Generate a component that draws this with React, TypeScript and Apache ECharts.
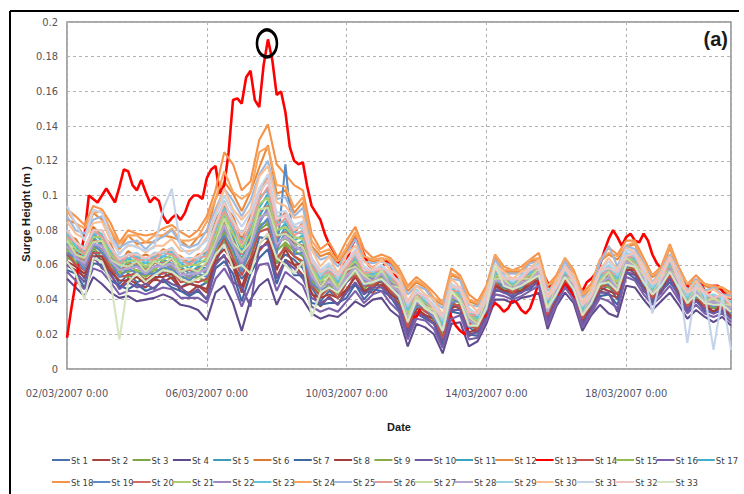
import React, { useEffect, useRef } from "react";
import * as echarts from "echarts";

// Surge height per station, in millimetres. Stations sampled every 6 h, St 13 every 3 h,
// starting 02/03/2007 0:00.
const st1 = [66,60,52,68,62,58,49,55,50,52,51, 56,52,47,50,47,50,61,73,60,52,58, 76,75,61,66,63,58,47,39,45,41,45, 54,44,49,48,45,37,22,35,31,29,17, 37,35,24,21,33,47,47,43,47,48,53, 29,42,50,45,27,37,45,48,40,59,55, 49,40,47,52,45,35,42,35,35,35,32];
const st2 = [60,57,53,63,63,54,47,52,49,47,52, 50,53,45,44,48,44,62,65,59,44,59, 68,74,53,63,60,54,44,36,42,37,46, 48,45,44,49,41,38,20,33,30,27,15, 33,35,19,22,30,48,44,44,44,49,50, 30,39,51,42,28,34,45,43,41,55,55, 45,41,44,53,42,36,39,36,32,36,29];
const st3 = [64,62,58,70,64,60,54,53,56,51,55, 58,54,52,49,53,50,68,74,67,55,63, 80,84,61,72,65,61,49,42,47,41,50, 56,46,51,50,47,39,26,35,35,28,20, 38,36,25,23,35,51,46,46,46,51,52, 33,41,53,44,31,36,49,47,45,58,59, 48,43,46,56,45,38,41,38,35,37,31];
const st4 = [52,47,42,53,49,44,41,42,39,40,41, 43,41,37,36,34,28,44,48,38,22,40, 48,52,37,48,44,40,32,29,31,30,34, 39,36,40,41,34,30,13,26,24,20,9, 26,27,13,16,26,40,40,38,41,42,44, 23,36,44,38,22,31,37,32,30,48,47, 40,34,39,44,37,29,34,30,27,30,25];
const st5 = [72,64,61,71,72,62,58,57,60,54,59, 61,58,56,53,58,55,74,80,74,59,74, 84,93,69,79,68,71,51,48,49,47,52, 61,50,53,53,50,43,30,38,37,30,24, 40,41,26,27,35,53,48,48,48,53,54, 35,43,55,46,33,38,51,51,48,60,61, 50,45,48,59,47,40,43,40,37,39,33];
const st6 = [77,75,67,82,77,72,61,68,64,66,64, 69,67,65,61,66,67,86,94,88,75,88, 100,112,85,90,79,84,61,56,58,54,60, 68,57,57,58,56,49,38,44,42,35,30, 47,47,33,32,40,59,52,52,52,58,59, 41,47,59,50,37,42,57,58,56,65,67, 55,49,52,64,51,44,47,44,41,43,37];
const st7 = [57,55,47,61,60,51,48,46,49,45,47, 51,47,45,42,45,40,58,62,55,39,55, 64,69,49,63,54,54,38,37,38,38,41, 49,40,46,45,42,34,19,32,29,26,13, 33,32,20,19,31,45,45,41,45,46,51, 27,40,48,43,25,35,42,43,37,56,52, 46,38,45,50,43,33,40,33,33,33,30];
const st8 = [62,59,55,65,65,56,51,51,53,49,53, 53,55,47,49,48,46,64,69,62,47,62, 72,78,57,69,60,61,43,41,43,41,46, 53,45,47,51,43,40,23,35,31,29,17, 35,37,21,23,31,49,45,45,45,50,51, 31,40,52,43,29,35,47,45,43,57,57, 47,42,45,55,43,37,40,37,33,37,30];
const st9 = [69,61,59,70,69,60,55,56,57,53,57, 57,59,52,53,53,55,68,79,67,58,67, 83,85,68,73,68,65,51,44,49,43,52, 56,50,49,53,46,43,26,38,34,31,20, 40,38,26,24,36,50,49,45,49,50,55, 32,44,52,47,30,39,48,51,44,61,58, 51,42,49,55,48,37,44,37,38,36,34];
const st10 = [60,56,50,65,58,55,46,50,47,49,46, 52,49,47,43,46,40,60,66,50,47,36, 70,72,52,62,58,52,41,38,41,37,44, 50,43,47,47,42,36,21,32,30,26,16, 34,34,20,21,30,46,44,42,44,47,50, 28,39,49,42,26,34,44,44,33,56,54, 46,39,44,52,42,34,39,34,32,34,29];
const st11 = [70,69,60,76,71,66,56,62,59,59,58, 63,61,59,55,59,58,77,84,76,63,77, 88,97,73,82,71,74,53,50,51,49,54, 62,51,54,54,51,44,32,39,39,31,25, 41,43,27,29,37,55,49,49,49,55,55, 37,44,56,47,34,39,53,53,50,61,63, 51,46,49,60,48,41,44,41,38,40,34];
const st12 = [86,84,76,90,86,80,69,77,72,73,73, 77,76,74,70,76,79,98,108,101,91,102, 116,129,101,103,90,96,71,65,67,61,68, 77,64,62,63,62,55,45,50,47,40,37, 54,52,39,37,45,65,56,56,56,62,63, 47,51,63,54,42,46,62,66,63,70,72, 60,53,56,70,56,48,51,48,46,46,41];
const st13 = [
  18,35,50,65,77,100,98,96,100,104,100,96,105,115,114,106,103,
  109,102,96,99,97,88,84,87,89,86,90,97,100,100,98,110,115,
  117,101,106,125,155,156,153,168,172,155,151,175,190,178,158,160,148,
  128,120,118,119,105,94,90,86,78,72,68,62,60,62,70,75,72,
  66,60,58,55,58,62,60,55,50,40,35,30,30,35,38,35,30,
  28,30,35,30,25,22,20,25,30,33,32,30,35,38,36,33,35,
  40,38,34,32,35,42,50,55,50,45,42,45,50,46,42,40,45,
  50,52,55,60,68,75,80,76,71,76,78,74,73,78,74,66,61,
  58,60,62,60,56,52,48,46,51,50,45,44,48,48,45,42,40,
];
const st14 = [67,60,57,67,67,58,53,54,55,51,55, 55,57,50,51,50,52,65,76,64,54,64, 79,81,64,70,65,62,48,42,47,41,50, 54,48,48,52,45,41,24,37,33,30,18, 38,36,25,23,35,49,48,44,48,49,54, 31,43,51,46,29,38,47,49,43,60,57, 50,41,48,54,47,36,43,36,37,35,33];
const st15 = [68,67,62,72,68,65,55,61,56,58,57, 62,59,57,52,58,56,70,84,70,63,70, 88,89,73,75,72,67,55,46,52,45,54, 58,53,50,56,48,46,28,40,35,33,22, 43,39,29,25,38,51,50,46,50,51,56, 33,45,53,48,31,40,49,53,46,62,59, 52,43,50,57,49,38,45,38,39,37,35];
const st16 = [56,51,46,58,56,50,43,45,45,43,45, 47,46,41,41,41,38,52,58,49,36,48, 60,61,45,56,52,48,36,33,35,33,39, 45,38,43,45,38,33,17,29,28,23,12, 29,31,17,18,28,43,42,40,42,45,48, 25,37,47,40,24,32,41,39,35,53,51, 43,37,42,48,40,32,37,32,30,32,27];
const st17 = [73,71,64,78,74,68,59,64,61,61,61, 65,64,61,58,62,62,79,88,80,68,80, 93,101,78,84,74,77,57,52,54,50,56, 64,53,55,55,53,46,34,41,40,33,27, 43,44,29,30,38,56,50,50,50,56,57, 39,45,57,48,35,40,54,55,52,63,64, 53,47,50,61,49,42,45,42,39,41,35];
const st18 = [92,88,83,94,92,84,73,80,78,77,78, 81,83,79,76,80,88,103,125,118,103,108, 132,141,118,112,106,103,78,69,73,64,74, 82,69,64,66,64,58,48,53,49,44,38, 58,54,43,39,48,66,59,57,59,63,67, 48,54,64,57,44,49,63,70,66,74,74, 64,54,59,72,59,49,54,49,48,47,44];
const st19 = [67,64,57,72,67,62,53,58,55,55,55, 59,57,54,51,55,53,70,77,69,56,69, 81,87,66,118,66,67,49,46,47,45,50, 58,48,51,51,48,41,28,36,36,29,22, 38,40,24,26,34,52,47,47,47,52,53, 34,42,54,45,32,37,50,49,46,59,60, 49,44,47,57,46,39,42,39,36,38,32];
const st20 = [71,67,63,74,73,64,57,60,61,57,61, 61,63,57,57,57,61,74,86,74,66,74, 91,94,76,79,73,71,56,48,53,47,56, 60,53,51,56,49,46,30,41,37,33,23, 43,41,29,27,39,53,51,47,51,53,57, 35,46,54,49,32,41,51,55,48,63,61, 53,44,51,58,50,39,46,39,40,38,36];
const st21 = [76,69,66,76,76,66,61,62,63,59,63, 63,66,59,60,60,64,77,90,78,70,78, 95,99,80,82,76,75,59,50,56,48,58, 62,55,53,57,51,48,32,43,38,35,25, 45,42,31,28,40,54,52,48,52,54,59, 37,47,55,50,33,42,52,57,50,65,62, 55,45,52,59,51,40,47,40,41,39,37];
const st22 = [70,66,59,73,69,64,57,58,59,55,59, 61,59,56,53,57,56,73,81,73,60,73, 85,92,70,78,69,70,52,48,49,47,52, 60,50,52,55,50,43,30,38,37,30,24, 41,40,27,26,36,52,49,47,49,52,55, 34,44,54,47,32,39,50,52,47,61,60, 51,44,49,58,48,39,44,39,38,38,34];
const st23 = [78,71,68,78,78,68,62,64,65,61,65, 65,68,61,62,62,67,80,93,81,74,81, 99,103,84,85,79,78,61,52,58,50,60, 64,57,54,59,52,49,34,44,39,36,26, 47,43,33,29,41,56,53,49,53,55,60, 38,48,56,51,34,43,53,58,52,66,63, 56,46,53,61,52,41,48,41,42,40,38];
const st24 = [91,84,81,90,91,80,72,77,77,73,77, 77,81,74,74,76,85,98,114,102,98,102, 125,128,106,105,93,99,74,67,69,62,70, 79,65,63,64,63,56,47,51,48,41,38, 55,53,40,38,46,66,57,57,57,63,64, 48,52,64,55,43,47,63,67,65,71,73, 61,54,57,71,57,49,52,49,47,47,42];
const st25 = [88,80,78,86,88,76,70,73,74,69,74, 76,80,72,70,72,80,92,104,97,88,97, 112,120,98,99,88,93,69,63,65,59,66, 75,62,61,62,60,53,43,48,46,39,35, 52,51,37,36,44,63,55,55,55,61,62, 45,50,62,53,41,45,61,71,59,71,69, 61,50,57,66,57,45,52,45,47,43,42];
const st26 = [76,73,66,80,76,70,60,66,63,63,63, 67,66,63,60,64,65,82,91,83,72,83, 97,105,82,87,77,80,59,54,56,52,58, 66,55,56,57,54,47,36,42,41,34,28, 45,45,31,31,39,58,51,51,51,57,58, 40,46,58,49,36,41,55,56,54,64,65, 54,48,51,63,50,43,46,43,40,42,36];
const st27 = [74,66,64,73,74,63,60,59,62,56,62, 60,64,56,58,56,62,73,87,73,67,73, 92,93,77,78,74,70,57,47,54,46,57, 59,54,50,57,48,47,29,42,36,34,22, 44,40,30,26,40,52,52,46,52,52,58, 34,47,53,50,31,42,50,56,47,64,60, 54,43,52,57,51,38,47,38,41,37,37];
const st28 = [71,64,61,72,71,62,57,58,59,55,59, 59,61,54,55,55,58,71,83,71,62,71, 87,90,72,76,71,68,54,46,51,45,54, 58,52,50,55,48,45,28,40,35,32,22, 42,39,28,25,37,51,50,46,50,51,56, 33,45,53,48,31,40,49,53,46,62,59, 52,43,50,57,49,38,45,38,39,37,35];
const st29 = [80,73,70,80,80,70,64,66,67,63,67, 67,70,63,64,64,70,83,97,85,78,85, 103,108,88,88,82,81,64,54,60,52,62, 66,59,56,60,54,51,36,46,40,37,28, 49,45,35,31,42,58,54,50,54,57,61, 40,49,57,52,36,44,55,60,54,67,65, 57,47,54,63,53,42,49,42,43,41,39];
const st30 = [85,78,75,84,85,74,67,71,71,67,71, 71,75,68,68,69,76,89,104,92,86,92, 111,117,96,94,87,88,69,59,65,55,66, 71,62,58,63,57,54,39,48,43,40,31, 52,47,38,33,45,60,56,52,56,58,63, 42,51,59,54,38,46,57,64,57,70,67, 60,49,56,65,56,44,51,44,46,42,41];
const st31 = [94,84,74,92,90,76,66,72,70,68,70, 92,104,70,66,70,74,88,100,90,82,90, 104,112,90,91,83,85,64,57,61,54,62, 69,59,57,60,55,50,38,45,42,37,30, 49,46,34,32,42,59,53,51,53,57,60, 41,48,58,51,37,43,56,62,56,69,66, 57,32,53,64,53,15,48,43,11,42,11];
const st32 = [80,73,69,80,80,70,63,66,66,64,66, 68,69,64,63,65,69,83,96,86,77,86, 101,109,86,89,80,83,62,56,58,54,60, 68,57,57,58,56,49,38,44,42,35,30, 47,47,33,32,40,59,52,52,52,58,59, 41,47,59,50,37,42,57,58,56,65,67, 55,49,52,64,51,44,47,44,41,43,37];
const st33 = [62,55,40,64,62,50,17,50,55,50,54, 57,56,52,50,52,55,66,72,58,60,55, 72,78,64,60,55,62,30,44,47,44,51, 57,49,50,52,47,42,27,40,35,32,22, 45,39,25,25,35,60,48,46,48,51,54, 35,43,53,46,31,38,49,50,45,60,59, 50,43,48,56,47,38,43,38,37,37,33];

const stationValuesMm = [
  st1, st2, st3, st4, st5, st6, st7, st8, st9, st10, st11,
  st12, st13, st14, st15, st16, st17, st18, st19, st20, st21, st22,
  st23, st24, st25, st26, st27, st28, st29, st30, st31, st32, st33,
];
const stationNames = [
  "St 1", "St 2", "St 3", "St 4", "St 5", "St 6", "St 7", "St 8", "St 9", "St 10", "St 11",
  "St 12", "St 13", "St 14", "St 15", "St 16", "St 17", "St 18", "St 19", "St 20", "St 21", "St 22",
  "St 23", "St 24", "St 25", "St 26", "St 27", "St 28", "St 29", "St 30", "St 31", "St 32", "St 33",
];
// sampling step (hours) of each station's record
const stationStepHours = [6,6,6,6,6,6,6,6,6,6,6, 6,3,6,6,6,6,6,6,6,6,6, 6,6,6,6,6,6,6,6,6,6,6];

const xTickLabels = ["02/03/2007 0:00", "06/03/2007 0:00", "10/03/2007 0:00", "14/03/2007 0:00", "18/03/2007 0:00"];
const xTickHours = 96; // 4 days between date labels
const xMaxHours = 456; // 21/03/2007 0:00
const yTickStep = 0.02;
const yMax = 0.2;
const highlightStation = 12; // St 13
const highlightSampleIndex = 46; // peak sample of St 13

const stationColors = [
  "#4a72aa", "#a9423f", "#7ea644", "#5f4a8c", "#3d9bb6", "#dc7a30", "#3f68a3", "#a33c3a", "#89aa46",
  "#6f58a2", "#3ca2c1", "#ea8a3c", "#ff0000", "#c4524f", "#93bd50", "#7c5eaa", "#42b0cc",
  "#f5934b", "#5b8bc7", "#d16b67", "#abcd6e", "#9f88c2", "#62c4dc", "#f8a560", "#9fb9de",
  "#e59c99", "#c6dda0", "#b5a6d1", "#95d3e5", "#fbbf94", "#c5d4ea", "#f1c2c0", "#d5e5c2",
];

const narrowFont = "'Liberation Sans Narrow', 'DejaVu Sans Condensed', 'Liberation Sans', sans-serif";
const boldFont = "'Liberation Sans', Arial, sans-serif";

function buildOption() {
  const series = stationValuesMm.map((vals, i) => {
    const step = stationStepHours[i];
    const s: any = {
      type: "line",
      name: stationNames[i],
      data: vals.map((v, k) => [k * step, v / 1000]),
      symbol: "none",
      silent: true,
      lineStyle: { width: i === highlightStation ? 2.6 : 2.1, color: stationColors[i] },
      itemStyle: { color: stationColors[i] },
      emphasis: { disabled: true },
    };
    if (i === highlightStation) {
      s.markPoint = {
        symbol: "circle",
        symbolSize: [20, 27],
        symbolOffset: [-1, 4],
        silent: true,
        label: { show: false },
        itemStyle: { color: "rgba(0,0,0,0)", borderColor: "#000", borderWidth: 3 },
        data: [{ coord: [highlightSampleIndex * step, vals[highlightSampleIndex] / 1000] }],
      };
    }
    return s;
  });

  const legend = stationNames.map((name, i) => {
    const row = i < 17 ? 0 : 1;
    const col = row === 0 ? i : i - 17;
    return {
      data: [name],
      left: 52 + col * 40.3,
      top: row === 0 ? 455 : 477,
      padding: 0,
      itemGap: 0,
      icon: "rect",
      itemWidth: 18,
      itemHeight: 2,
      selectedMode: false,
      textStyle: { fontSize: 9.5, color: "#404040", fontFamily: narrowFont, padding: [0, 0, 0, -4] },
    };
  });

  const gridLine = { show: true, lineStyle: { type: [3, 3], color: "#b3b3b3", width: 1 } };

  return {
    animation: false,
    backgroundColor: "#ffffff",
    grid: { left: 67, top: 22, width: 664, height: 347, show: true, borderColor: "#8c8c8c", borderWidth: 1.5 },
    xAxis: {
      type: "value",
      min: 0,
      max: xMaxHours,
      interval: xTickHours,
      name: "Date",
      nameLocation: "middle",
      nameGap: 52,
      nameTextStyle: { fontSize: 11, fontWeight: "bold", color: "#1a1a1a", fontFamily: boldFont },
      axisLine: { show: false },
      axisTick: { show: false },
      axisLabel: {
        showMaxLabel: false,
        margin: 19,
        fontSize: 11,
        color: "#555566",
        fontFamily: narrowFont,
        formatter: (v: number) => xTickLabels[Math.round(v / xTickHours)] ?? "",
      },
      splitLine: gridLine,
    },
    yAxis: {
      type: "value",
      min: 0,
      max: yMax,
      interval: yTickStep,
      axisLine: { show: false },
      axisTick: { show: false },
      axisLabel: {
        margin: 9,
        fontSize: 11,
        color: "#555555",
        fontFamily: narrowFont,
        formatter: (v: number) => String(+v.toFixed(2)),
      },
      splitLine: gridLine,
    },
    legend,
    series,
    graphic: [
      { type: "line", shape: { x1: 10, y1: 11, x2: 739, y2: 11 }, style: { stroke: "#000", lineWidth: 2 }, silent: true },
      { type: "line", shape: { x1: 10, y1: 11, x2: 10, y2: 494 }, style: { stroke: "#000", lineWidth: 2 }, silent: true },
      {
        type: "text",
        x: 26,
        y: 214,
        rotation: Math.PI / 2,
        silent: true,
        style: { text: "Surge Height (m )", align: "center", verticalAlign: "middle", font: `bold 11.5px ${boldFont}`, fill: "#1a1a1a" },
      },
      {
        type: "text",
        x: 728,
        y: 39,
        silent: true,
        style: { text: "(a)", align: "right", verticalAlign: "middle", font: `bold 20px ${boldFont}`, fill: "#1a1a1a" },
      },
    ],
  };
}

export default function App() {
  const ref = useRef<HTMLDivElement>(null);
  useEffect(() => {
    if (!ref.current) return;
    const chart = echarts.init(ref.current, undefined, { renderer: "svg" });
    chart.setOption(buildOption() as any);
    return () => chart.dispose();
  }, []);
  return (
    <div
      ref={ref}
      style={{ position: "absolute", left: 0, top: 0, width: 744, height: 494, background: "#fff" }}
    />
  );
}
